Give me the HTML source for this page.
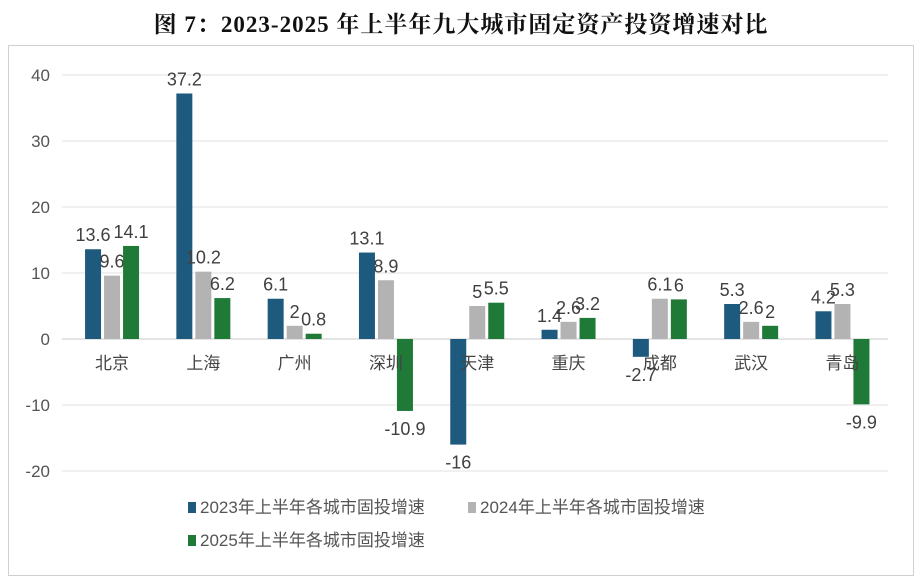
<!DOCTYPE html>
<html><head><meta charset="utf-8">
<style>
body{margin:0;background:#fff;width:922px;height:581px;overflow:hidden;font-family:"Liberation Sans","Noto Sans CJK SC",sans-serif;}
#title{position:absolute;left:0;top:6px;width:922px;text-align:center;font-family:"Liberation Serif","Noto Serif CJK SC",serif;font-weight:bold;font-size:23px;color:#111;letter-spacing:1px;}
#frame{position:absolute;left:8px;top:45px;width:904px;height:529px;border:1px solid #d0d0d0;}
svg{position:absolute;left:0;top:0;}
</style></head><body>
<div id="title">图 7：2023-2025 年上半年九大城市固定资产投资增速对比</div>
<div id="frame"></div>
<svg id="chart" width="922" height="581"></svg>
<script>
const categories=["北京","上海","广州","深圳","天津","重庆","成都","武汉","青岛"];
const s2023=[13.6,37.2,6.1,13.1,-16,1.4,-2.7,5.3,4.2];
const s2024=[9.6,10.2,2,8.9,5,2.6,6.1,2.6,5.3];
const s2025=[14.1,6.2,0.8,-10.9,5.5,3.2,6,2,-9.9];
const yTicks=[40,30,20,10,0,-10,-20];
const seriesNames=["2023年上半年各城市固投增速","2024年上半年各城市固投增速","2025年上半年各城市固投增速"];
const colors=["#1d5a7e","#b3b3b3","#1f7a37"];
const NS="http://www.w3.org/2000/svg";
const svg=document.getElementById('chart');
const x0=66.4,step=91.3,bw=16,gap=3;
const y=v=>339-v*6.6;
const xc=i=>x0+step*(i+0.5);
function mk(t,a,txt){const e=document.createElementNS(NS,t);for(const k in a)e.setAttribute(k,a[k]);if(txt!==undefined)e.textContent=txt;svg.appendChild(e);return e;}
yTicks.forEach(t=>{
 const g=mk('line',{x1:62,x2:888,y1:y(t),y2:y(t),stroke:t===0?'#c8c8c8':'#e2e2e2','stroke-width':1});
 
 
 const l=mk('text',{x:50,y:y(t)+6,'text-anchor':'end','font-size':17,fill:'#555'},t);
 
 
});
const all=[s2023,s2024,s2025];
categories.forEach((c,i)=>{
 all.forEach((s,k)=>{
  const v=s[i];const bx=xc(i)-bw/2+(k-1)*(bw+gap);
  const r=mk('rect',{x:bx,y:Math.min(y(v),y(0)),width:bw,height:Math.abs(y(v)-y(0)),fill:colors[k]});
  
  
  const ly=v>=0?y(v)-8:y(v)+24;
  const t=mk('text',{x:bx+bw/2,y:ly,'text-anchor':'middle','font-size':18,fill:'#404040'},v);
  
  
 });
 const cl=mk('text',{x:xc(i),y:369,'text-anchor':'middle','font-size':17,fill:'#444'},c);
 
 
});
const legPos=[[188,513],[468,513],[188,546]];
seriesNames.forEach((n,k)=>{
 const [lx,ly]=legPos[k];
 const r=mk('rect',{x:lx,y:ly-11,width:8,height:11,fill:colors[k]});
 
 
 const t=mk('text',{x:lx+12,y:ly,'font-size':17,fill:'#555'},n);
 
 
});
</script>
</body></html>
